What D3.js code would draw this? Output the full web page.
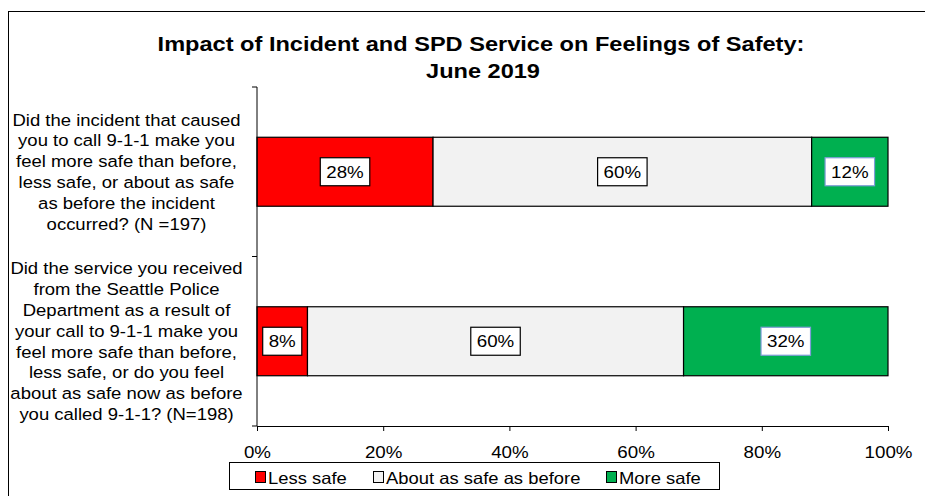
<!DOCTYPE html>
<html>
<head>
<meta charset="utf-8">
<script src="https://cdn.jsdelivr.net/npm/d3@7"></script>
<style>
  html, body { margin: 0; padding: 0; background: #fff; }
  svg { display: block; font-family: Arial, "Liberation Sans", sans-serif; }
</style>
</head>
<body>
<svg id="chart" width="925" height="496"></svg>
<script>
// ---- data ----
const categories = [
  ["Did the incident that caused", "you to call 9-1-1 make you", "feel more safe than before,", "less safe, or about as safe", "as before the incident", "occurred? (N =197)"],
  ["Did the service you received", "from the Seattle Police", "Department as a result of", "your call to 9-1-1 make you", "feel more safe than before,", "less safe, or do you feel", "about as safe now as before", "you called 9-1-1? (N=198)"]
];
const seriesNames = ["Less safe", "About as safe as before", "More safe"];
const lessSafe = [27.9, 8.0];
const aboutSame = [60.0, 59.6];
const moreSafe = [12.1, 32.4];
const tickValues = [0, 20, 40, 60, 80, 100];
const titleLines = ["Impact of Incident and SPD Service on Feelings of Safety:", "June 2019"];

const colors = ["#FF0000", "#F2F2F2", "#00B050"];
const labelBorders = ["#000000", "#000000", "#7F9CD8"];
const FS = 16.3;      // body font size
const SX = 1.15;      // horizontal stretch of the reference's text

const svg = d3.select("#chart");

// outer border
svg.append("rect").attr("x", 8.5).attr("y", 11.5).attr("width", 930).attr("height", 500)
  .attr("fill", "none").attr("stroke", "#000").attr("stroke-width", 1);

// title
svg.append("g").selectAll("text").data(titleLines).join("text")
  .attr("text-anchor", "middle").attr("font-weight", "bold")
  .attr("font-size", 20.5).attr("fill", "#000")
  .attr("transform", (d, i) => `translate(${i === 0 ? 481 : 483},${51 + i * 27}) scale(1.15,1)`)
  .text(d => d);

// scales
const x = d3.scaleLinear().domain([0, 100]).range([257, 888]);
const y = d3.scaleBand().domain(d3.range(categories.length)).range([87, 426])
  .paddingInner(0.593).paddingOuter(0.2965);

const rows = categories.map((c, i) => {
  const vals = [lessSafe[i], aboutSame[i], moreSafe[i]];
  let acc = 0;
  return vals.map((v, k) => { const s = acc; acc += v; return { row: i, k, v, x0: s, x1: acc }; });
});

const seg = svg.append("g").selectAll("g").data(rows).join("g");
seg.selectAll("rect").data(d => d).join("rect")
  .attr("x", d => x(d.x0)).attr("width", d => x(d.x1) - x(d.x0))
  .attr("y", d => y(d.row)).attr("height", y.bandwidth())
  .attr("fill", d => colors[d.k]).attr("stroke", "#000").attr("stroke-width", 1.2);

// data labels
const lab = seg.selectAll("g.lab").data(d => d).join("g").attr("class", "lab")
  .attr("transform", d => `translate(${(x(d.x0) + x(d.x1)) / 2},${y(d.row) + y.bandwidth() / 2})`);
lab.each(function(d) {
  const g = d3.select(this);
  const t = g.append("text").attr("text-anchor", "middle").attr("dy", "0.36em")
    .attr("font-size", FS).attr("fill", "#000").attr("transform", `scale(${SX},1)`)
    .text(Math.round(d.v) + "%");
  const w = t.node().getComputedTextLength() * SX;
  g.insert("rect", "text").attr("x", -w / 2 - 6).attr("y", -14).attr("width", w + 12).attr("height", 28)
    .attr("fill", "#fff").attr("stroke", labelBorders[d.k]).attr("stroke-width", 1.2);
});

// left axis (category boundaries)
const yTop = y.range()[0], yBot = y.range()[1];
const la = svg.append("g");
la.append("line").attr("x1", 257).attr("x2", 257).attr("y1", yTop).attr("y2", yBot).attr("stroke", "#000");
la.selectAll("line.t").data(d3.range(categories.length + 1)).join("line").attr("class", "t")
  .attr("x1", 252).attr("x2", 257)
  .attr("y1", i => yTop + i * y.step()).attr("y2", i => yTop + i * y.step()).attr("stroke", "#000");

// category labels
svg.append("g").selectAll("text").data(categories).join("text")
  .attr("text-anchor", "middle").attr("font-size", FS).attr("fill", "#000")
  .attr("transform", (d, i) => `translate(126.5,${y(i) + y.bandwidth() / 2}) scale(1.135,1)`)
  .each(function(lines) {
    const lh = 20.8;
    d3.select(this).selectAll("tspan").data(lines).join("tspan")
      .attr("x", 0)
      .attr("y", (d, j) => (j - (lines.length - 1) / 2) * lh)
      .attr("dy", "0.36em").text(d => d);
  });

// bottom axis
const xa = svg.append("g").attr("transform", `translate(0,${yBot})`)
  .call(d3.axisBottom(x).tickValues(tickValues).tickFormat(d => d + "%").tickSize(5).tickSizeOuter(0).tickPadding(15));
xa.select(".domain").attr("stroke", "#000");
xa.selectAll(".tick line").attr("stroke", "#000");
xa.selectAll(".tick text").attr("font-size", FS).attr("font-family", "Arial, 'Liberation Sans', sans-serif")
  .attr("fill", "#000").attr("transform", `scale(${SX},1)`);

// legend
const lg = svg.append("g");
lg.append("rect").attr("x", 229.5).attr("y", 462.5).attr("width", 490).attr("height", 27)
  .attr("fill", "#fff").attr("stroke", "#000");
const legX = [255, 373, 606];
const item = lg.selectAll("g.it").data(seriesNames).join("g").attr("class", "it")
  .attr("transform", (d, i) => `translate(${legX[i]},0)`);
item.append("rect").attr("x", 0.5).attr("y", 471.5).attr("width", 10).attr("height", 11)
  .attr("fill", (d, i) => colors[i]).attr("stroke", "#000");
item.append("text").attr("font-size", FS).attr("fill", "#000")
  .attr("transform", `translate(13,484) scale(${SX - 0.02},1)`).text(d => d);
</script>
</body>
</html>
